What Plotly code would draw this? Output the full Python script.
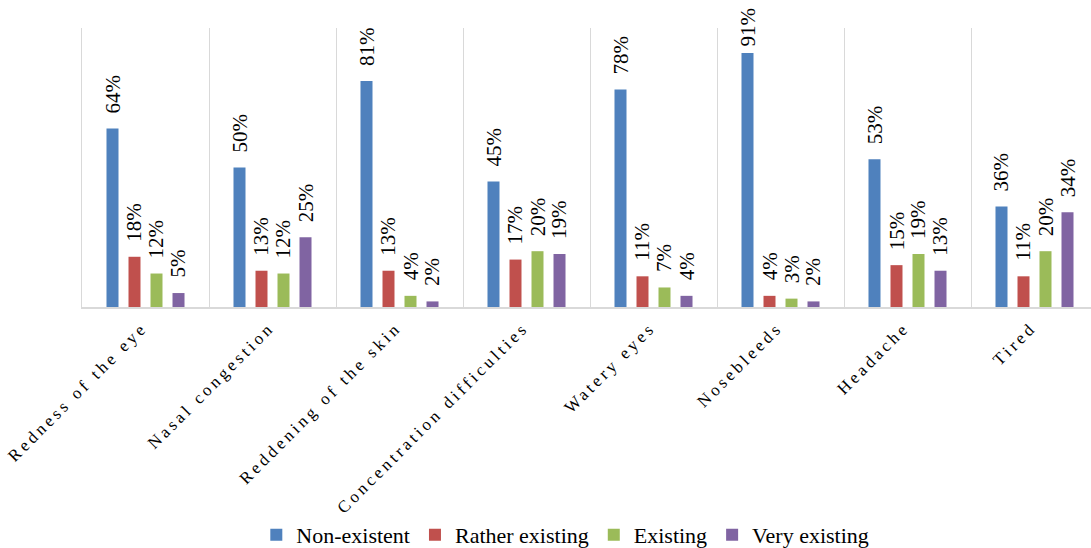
import plotly.graph_objects as go

# Symptom survey: share of answers per symptom and intensity level
categories = [
    "Redness of the eye",
    "Nasal congestion",
    "Reddening of the skin",
    "Concentration difficulties",
    "Watery eyes",
    "Nosebleeds",
    "Headache",
    "Tired",
]
series_names = ["Non-existent", "Rather existing", "Existing", "Very existing"]
non_existent = [64, 50, 81, 45, 78, 91, 53, 36]
rather_existing = [18, 13, 13, 17, 11, 4, 15, 11]
existing = [12, 12, 4, 20, 7, 3, 19, 20]
very_existing = [5, 25, 2, 19, 4, 2, 13, 34]

series_values = [non_existent, rather_existing, existing, very_existing]
colors = ["#4F81BD", "#C0504D", "#9BBB59", "#8064A2"]

FONT = "Liberation Serif, Times New Roman, serif"
W, H = 1091, 548
M_L, M_T, M_B = 82, 28, 241
PLOT_H = H - M_T - M_B
CAT_PX = 127          # width of one category slot in pixels
SLOT_PX = 22          # distance between neighbouring bars of a group
LABEL_SIZE = 21

fig = go.Figure()
for name, vals, col in zip(series_names, series_values, colors):
    fig.add_trace(go.Bar(
        x=categories, y=vals, name=name,
        marker=dict(color=col, line=dict(width=0)),
        hoverinfo="skip",
    ))


def label_shift(v, text):
    """Gap above the bar, reduced when the label would leave the chart."""
    bar_top = M_T + PLOT_H * (1 - v / 100)
    text_len = LABEL_SIZE * (0.5 * (len(text) - 1) + 0.833)
    return min(14, bar_top - 9 - text_len)


annotations = []
for i, vals in enumerate(series_values):
    for cat, v in zip(categories, vals):
        txt = f"{v}%"
        annotations.append(dict(
            x=cat, y=v, xref="x", yref="y", text=txt, showarrow=False,
            textangle=-90, xanchor="center", yanchor="bottom",
            xshift=(i - 1.5) * SLOT_PX, yshift=label_shift(v, txt),
            font=dict(family=FONT, size=LABEL_SIZE, color="#000000"),
            borderpad=0,
        ))

plot_w = W - M_L
x_end = -0.5 + plot_w / CAT_PX

fig.update_layout(
    width=W, height=H,
    margin=dict(l=M_L, r=0, t=M_T, b=M_B, pad=0, autoexpand=False),
    paper_bgcolor="white", plot_bgcolor="white",
    barmode="group", bargap=0.307, bargroupgap=0.4545,
    font=dict(family=FONT, color="#000000"),
    annotations=annotations,
    showlegend=True,
    legend=dict(
        orientation="h", x=0.479, xanchor="center", y=-0.817, yanchor="middle",
        font=dict(family=FONT, size=22, color="#000000"),
        itemwidth=30, traceorder="normal", tracegroupgap=0,
    ),
    xaxis=dict(
        type="category", range=[-0.5, x_end], tickson="boundaries",
        showgrid=True, gridcolor="#D9D9D9", gridwidth=1,
        showline=True, linecolor="#D9D9D9", linewidth=2,
        ticks="", tickangle=-45, ticklabelstandoff=2, ticklabelshift=-3,
        tickfont=dict(family=FONT, size=17, color="#000000"),
        automargin=False, fixedrange=True,
    ),
    yaxis=dict(
        range=[0, 100], showgrid=False, zeroline=False,
        showticklabels=False, ticks="",
        showline=True, linecolor="#D9D9D9", linewidth=1,
        automargin=False, fixedrange=True,
    ),
)

# widen the letter spacing of the rotated category labels
letter_spacing_js = (
    "var s=document.createElement('style');"
    "s.textContent='.xtick text{letter-spacing:3.4px;}';"
    "document.head.appendChild(s);"
)

fig.write_html("out.html", post_script=letter_spacing_js)
